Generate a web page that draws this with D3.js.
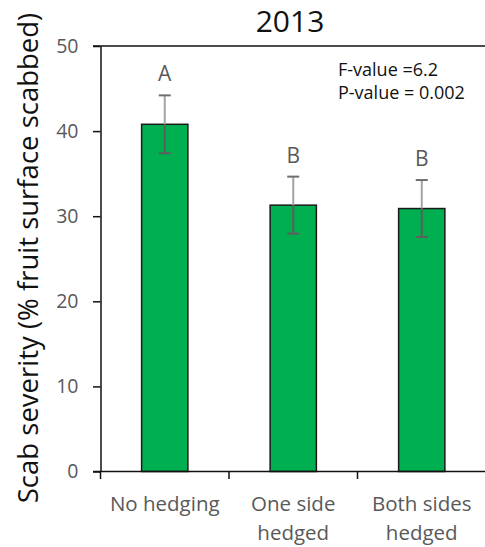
<!DOCTYPE html>
<html>
<head>
<meta charset="utf-8">
<script src="https://cdn.jsdelivr.net/npm/d3@7"></script>
<style>
  html, body { margin: 0; padding: 0; background: #fff; }
  svg { display: block; font-family: "Open Sans", "Noto Sans", sans-serif; }
</style>
</head>
<body>
<svg id="chart" width="485" height="547"></svg>
<script>
// Scab severity by hedging treatment, 2013
const categories = [["No hedging"], ["One side", "hedged"], ["Both sides", "hedged"]];
const severity = [40.8, 31.3, 30.9];
const stdError = [3.4, 3.35, 3.35];
const groupLetters = ["A", "B", "B"];
const yTicks = [0, 10, 20, 30, 40, 50];
const statLines = ["F-value =6.2", "P-value = 0.002"];

const svg = d3.select("#chart");
const keys = categories.map(c => c.join(" "));

const plotLeft = 100.5, plotRight = 486, plotTop = 46, plotBottom = 471.5;

const x = d3.scaleBand().domain(keys).range([plotLeft, plotRight])
  .paddingInner(0.64).paddingOuter(0.32);
const y = d3.scaleLinear().domain([0, 50]).range([plotBottom, plotTop]);

const labelGray = "#595959";

// Title
svg.append("text")
  .attr("x", 290).attr("y", 32)
  .attr("text-anchor", "middle")
  .attr("font-size", 30)
  .attr("fill", "#111")
  .text("2013");

// Top border line of the plot area
svg.append("line")
  .attr("x1", plotLeft - 7.5).attr("x2", 485)
  .attr("y1", y(50)).attr("y2", y(50))
  .attr("stroke", "#111").attr("stroke-width", 1.5);

// Bars
svg.append("g").selectAll("rect")
  .data(keys)
  .join("rect")
  .attr("x", d => x(d))
  .attr("width", x.bandwidth())
  .attr("y", (d, i) => y(severity[i]))
  .attr("height", (d, i) => y(0) - y(severity[i]))
  .attr("fill", "#00b050")
  .attr("stroke", "#1a1a1a")
  .attr("stroke-width", 1.5);

// Error bars: lighter above the bar, darker over the fill
const err = svg.append("g");
keys.forEach((k, i) => {
  const cx = x(k) + x.bandwidth() / 2;
  const hi = y(severity[i] + stdError[i]);
  const lo = y(severity[i] - stdError[i]);
  const mid = y(severity[i]);
  err.append("line").attr("x1", cx).attr("x2", cx).attr("y1", hi).attr("y2", mid)
    .attr("stroke", "#a3a3a3").attr("stroke-width", 2);
  err.append("line").attr("x1", cx).attr("x2", cx).attr("y1", mid).attr("y2", lo)
    .attr("stroke", "#5e5e5e").attr("stroke-width", 2);
  err.append("line").attr("x1", cx - 6).attr("x2", cx + 6).attr("y1", hi).attr("y2", hi)
    .attr("stroke", "#6e6e6e").attr("stroke-width", 2);
  err.append("line").attr("x1", cx - 6).attr("x2", cx + 6).attr("y1", lo).attr("y2", lo)
    .attr("stroke", "#5e5e5e").attr("stroke-width", 2);
  // Significance letter
  svg.append("text")
    .attr("x", cx).attr("y", hi - 14)
    .attr("text-anchor", "middle")
    .attr("font-size", 21)
    .attr("fill", labelGray)
    .text(groupLetters[i]);
});

// Y axis
const yAxis = svg.append("g")
  .attr("transform", `translate(${plotLeft},0)`)
  .call(d3.axisLeft(y).tickValues(yTicks).tickSize(7.5).tickPadding(14.5).tickSizeOuter(0));
yAxis.select(".domain").attr("stroke", "#111").attr("stroke-width", 1.5);
yAxis.selectAll(".tick line").attr("stroke", "#111").attr("stroke-width", 1.5);
yAxis.selectAll(".tick text")
  .attr("font-size", 19.5).attr("fill", labelGray)
  .attr("font-family", "Open Sans, sans-serif");

// X axis line and category divider ticks
svg.append("line")
  .attr("x1", plotLeft - 7.5).attr("x2", 485)
  .attr("y1", plotBottom).attr("y2", plotBottom)
  .attr("stroke", "#111").attr("stroke-width", 1.5);
const dividers = d3.range(keys.length + 1).map(i => plotLeft + i * x.step());
svg.append("g").selectAll("line")
  .data(dividers)
  .join("line")
  .attr("x1", d => d).attr("x2", d => d)
  .attr("y1", plotBottom).attr("y2", plotBottom + 7.5)
  .attr("stroke", "#111").attr("stroke-width", 1.5);

// Category labels
const xl = svg.append("g");
keys.forEach((k, i) => {
  const t = xl.append("text")
    .attr("x", x(k) + x.bandwidth() / 2)
    .attr("y", 511)
    .attr("text-anchor", "middle")
    .attr("font-size", 20.5)
    .attr("fill", labelGray);
  categories[i].forEach((line, j) => {
    t.append("tspan")
      .attr("x", x(k) + x.bandwidth() / 2)
      .attr("dy", j === 0 ? 0 : 29)
      .text(line);
  });
});

// Y axis title
svg.append("text")
  .attr("transform", "translate(38,258) rotate(-90)")
  .attr("text-anchor", "middle")
  .attr("font-size", 27.5)
  .attr("fill", "#111")
  .text("Scab severity (% fruit surface scabbed)");

// Test statistics
statLines.forEach((s, i) => {
  svg.append("text")
    .attr("x", 338).attr("y", 76 + i * 23)
    .attr("font-size", 18)
    .attr("fill", "#111")
    .text(s);
});
</script>
</body>
</html>
